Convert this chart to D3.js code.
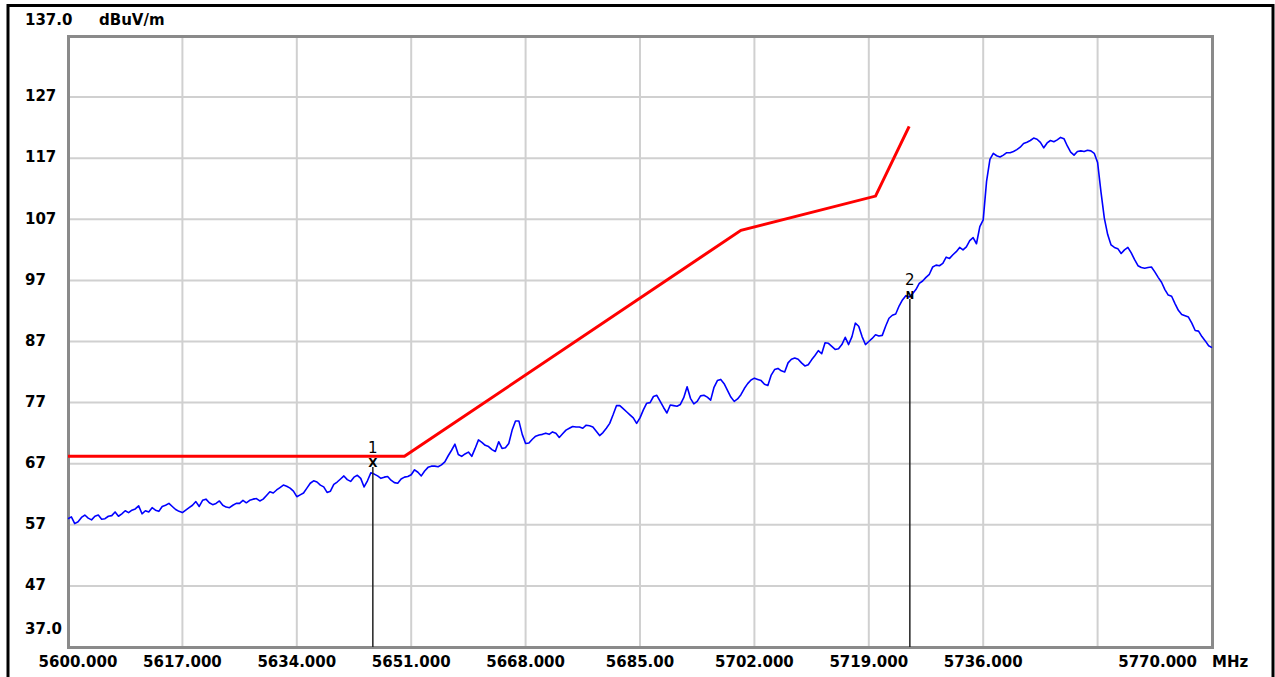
<!DOCTYPE html>
<html lang="en">
<head>
    <meta charset="UTF-8">
    <title>Radiated emission scan 5600-5770 MHz</title>
    <script src="https://d3js.org/d3.v7.min.js"></script>
    <style>
        body { margin: 0; background: #fff; }
        svg { display: block; }
        .lbl { font-family: "DejaVu Sans", Verdana, sans-serif; font-weight: bold; font-size: 15px; fill: #000; }
    </style>
</head>
<body>
<script>
// axis setup
const xTickValues = [5600, 5617, 5634, 5651, 5668, 5685, 5702, 5719, 5736, 5770];
const xTickLabels = ["5600.000", "5617.000", "5634.000", "5651.000", "5668.000", "5685.00", "5702.000", "5719.000", "5736.000", "5770.000"];
const xGridValues = [5617, 5634, 5651, 5668, 5685, 5702, 5719, 5736, 5753];
const yTickValues = [127, 117, 107, 97, 87, 77, 67, 57, 47];

// limit line (red)
const limitMHz = [5600, 5650, 5700, 5720, 5725];
const limitDb = [68.2, 68.2, 105.2, 110.8, 122.2];

// measured trace (blue), one value per 0.5 MHz from 5600 to 5770 (10 values = 5 MHz per row)
const traceStartMHz = 5600;
const traceStepMHz = 0.5;
const traceDb = [
    58.0, 58.3, 57.2, 57.5, 58.2, 58.6, 58.1, 57.8, 58.4, 58.6,
    57.9, 58.0, 58.4, 58.5, 59.1, 58.4, 58.8, 59.3, 59.0, 59.4,
    59.6, 60.1, 58.8, 59.3, 59.1, 59.8, 59.4, 59.2, 60.0, 60.2,
    60.5, 60.0, 59.5, 59.2, 59.0, 59.4, 59.8, 60.2, 60.8, 60.0,
    61.0, 61.2, 60.6, 60.3, 60.5, 60.9, 60.2, 59.9, 59.8, 60.2,
    60.5, 60.5, 61.0, 60.6, 61.0, 61.2, 61.3, 60.9, 61.2, 61.8,
    62.4, 62.2, 62.7, 63.1, 63.5, 63.3, 63.0, 62.5, 61.6, 61.9,
    62.2, 63.0, 63.8, 64.2, 64.0, 63.5, 63.2, 62.3, 62.5, 63.6,
    64.0, 64.5, 65.0, 64.4, 64.1, 64.8, 65.1, 64.6, 63.2, 64.2,
    65.5, 65.3, 65.0, 64.6, 64.8, 64.9, 64.3, 63.9, 63.8, 64.5,
    64.8, 64.9, 65.2, 66.0, 65.6, 65.0, 65.8, 66.4, 66.6, 66.6,
    66.5, 66.8, 67.3, 68.3, 69.2, 70.2, 68.5, 68.2, 68.6, 68.9,
    68.2, 69.5, 70.9, 70.5, 70.0, 69.8, 69.3, 69.0, 70.6, 69.5,
    69.6, 70.3, 72.5, 74.0, 74.0, 71.8, 70.3, 70.4, 71.0, 71.5,
    71.7, 71.8, 72.0, 71.8, 72.2, 72.0, 71.3, 71.9, 72.5, 72.8,
    73.1, 73.0, 73.0, 72.8, 73.3, 73.2, 73.0, 72.3, 71.6, 72.1,
    72.8, 73.6, 75.0, 76.5, 76.5, 76.0, 75.5, 75.0, 74.5, 73.6,
    74.5, 75.8, 76.9, 77.0, 78.0, 78.2, 77.2, 76.2, 75.3, 76.6,
    76.5, 76.4, 76.7, 77.8, 79.6, 77.7, 76.8, 77.2, 78.1, 78.2,
    77.9, 77.4, 79.5, 80.6, 80.8, 80.1, 79.0, 77.9, 77.2, 77.6,
    78.3, 79.3, 80.1, 80.7, 81.0, 80.8, 80.6, 80.0, 79.8, 81.5,
    82.4, 82.6, 82.2, 82.0, 83.5, 84.1, 84.3, 84.1, 83.5, 83.0,
    83.2, 84.0, 84.7, 85.5, 85.0, 86.8, 86.7, 86.2, 85.7, 85.8,
    86.5, 87.7, 86.5, 87.8, 90.0, 89.5, 87.8, 86.5, 87.0, 87.5,
    88.1, 87.9, 88.0, 89.5, 90.8, 91.3, 91.5, 92.8, 93.8, 94.5,
    94.3, 94.8, 95.5, 96.5, 96.9, 97.5, 98.0, 99.2, 99.5, 99.4,
    99.8, 100.8, 100.6, 101.2, 101.7, 102.4, 102.0, 102.5, 103.5, 104.0,
    103.0, 105.8, 106.9, 113.2, 116.8, 117.8, 117.4, 117.2, 117.5, 117.9,
    117.9, 118.1, 118.4, 118.8, 119.4, 119.6, 119.9, 120.3, 120.1, 119.6,
    118.7, 119.5, 119.9, 119.7, 120.0, 120.4, 120.2, 119.0, 118.0, 117.5,
    118.1, 118.2, 118.1, 118.3, 118.2, 117.8, 116.3, 111.5, 107.2, 104.5,
    102.8, 102.4, 102.2, 101.4, 102.0, 102.4, 101.5, 100.4, 99.4, 99.1,
    99.0, 99.1, 99.2, 98.4, 97.5, 96.7, 95.5, 94.6, 94.4, 93.2,
    92.1, 91.4, 91.2, 91.0, 90.0, 88.8, 88.7, 87.8, 87.1, 86.3,
    86.0
];

// markers
const markerMHz = [5645.3, 5725.1];
const markerDb = [67.1, 94.6];
const markerNames = ["1", "2"];
const markerSymbols = ["X", "N"];

const W = 1275, H = 677;
const plot = { left: 68, right: 1212, top: 36, bottom: 647 };

const svg = d3.select("body").append("svg")
    .attr("width", W)
    .attr("height", H);

const x = d3.scaleLinear().domain([5600, 5770]).range([plot.left, plot.right]);
const y = d3.scaleLinear().domain([37, 137]).range([plot.bottom, plot.top]);

// outer black frame
svg.append("rect")
    .attr("x", 8).attr("y", 5.5)
    .attr("width", 1265).attr("height", 690)
    .attr("fill", "none").attr("stroke", "#000").attr("stroke-width", 3);

// grid
svg.append("g").selectAll("line")
    .data(xGridValues)
    .join("line")
    .attr("x1", d => x(d)).attr("x2", d => x(d))
    .attr("y1", plot.top).attr("y2", plot.bottom)
    .attr("stroke", "#d0d0d0").attr("stroke-width", 2);

svg.append("g").selectAll("line")
    .data(yTickValues)
    .join("line")
    .attr("x1", plot.left).attr("x2", plot.right)
    .attr("y1", d => y(d)).attr("y2", d => y(d))
    .attr("stroke", "#d0d0d0").attr("stroke-width", 2);

// plot frame
svg.append("rect")
    .attr("x", plot.left + 0.5).attr("y", plot.top + 0.5)
    .attr("width", plot.right - plot.left).attr("height", plot.bottom - plot.top)
    .attr("fill", "none").attr("stroke", "#8a8a8a").attr("stroke-width", 3);

// y labels
svg.append("g").selectAll("text")
    .data(yTickValues)
    .join("text")
    .attr("class", "lbl")
    .attr("x", 25)
    .attr("y", d => y(d) - 1)
    .attr("dy", "0.35em")
    .text(d => d);

svg.append("text").attr("class", "lbl")
    .attr("x", 25).attr("y", y(137) - 16).attr("dy", "0.35em").text("137.0");
svg.append("text").attr("class", "lbl")
    .attr("x", 99).attr("y", y(137) - 16).attr("dy", "0.35em").text("dBuV/m");
svg.append("text").attr("class", "lbl")
    .attr("x", 25).attr("y", y(37) - 18).attr("dy", "0.35em").text("37.0");

// x labels (first one nudged right, last one pulled left of the MHz unit)
svg.append("g").selectAll("text")
    .data(xTickValues)
    .join("text")
    .attr("class", "lbl")
    .attr("x", (d, i) => i === 0 ? x(d) + 10 : x(d))
    .attr("y", plot.bottom + 15)
    .attr("dy", "0.35em")
    .attr("text-anchor", (d, i) => i === xTickValues.length - 1 ? "end" : "middle")
    .attr("dx", (d, i) => i === xTickValues.length - 1 ? -15 : 0)
    .text((d, i) => xTickLabels[i]);

svg.append("text").attr("class", "lbl")
    .attr("x", x(5770)).attr("y", plot.bottom + 15).attr("dy", "0.35em")
    .text("MHz");

// limit line
const limitPts = limitMHz.map((f, i) => [f, limitDb[i]]);
svg.append("path")
    .datum(limitPts)
    .attr("fill", "none")
    .attr("stroke", "#ff0000")
    .attr("stroke-width", 3)
    .attr("d", d3.line().x(d => x(d[0])).y(d => y(d[1])));

// trace
const tracePts = traceDb.map((v, i) => [traceStartMHz + i * traceStepMHz, v]);
svg.append("path")
    .datum(tracePts)
    .attr("fill", "none")
    .attr("stroke", "#0000ff")
    .attr("stroke-width", 1.6)
    .attr("stroke-linejoin", "round")
    .attr("d", d3.line().x(d => x(d[0])).y(d => y(d[1])));

// markers
const mk = svg.append("g").selectAll("g")
    .data(markerMHz)
    .join("g");

mk.append("line")
    .attr("x1", d => x(d)).attr("x2", d => x(d))
    .attr("y1", (d, i) => y(markerDb[i]) + 4)
    .attr("y2", plot.bottom)
    .attr("stroke", "#222").attr("stroke-width", 1.5);

mk.append("text")
    .attr("x", d => x(d))
    .attr("y", (d, i) => y(markerDb[i]))
    .attr("dy", "0.35em")
    .attr("text-anchor", "middle")
    .style("font-family", "DejaVu Sans, sans-serif")
    .style("font-weight", "bold")
    .style("font-size", (d, i) => i === 0 ? "12px" : "10px")
    .text((d, i) => markerSymbols[i]);

mk.append("text")
    .attr("x", d => x(d))
    .attr("y", (d, i) => y(markerDb[i]) - 15)
    .attr("dy", "0.35em")
    .attr("text-anchor", "middle")
    .style("font-family", "DejaVu Sans, sans-serif")
    .style("font-size", "15px")
    .text((d, i) => markerNames[i]);
</script>
</body>
</html>
